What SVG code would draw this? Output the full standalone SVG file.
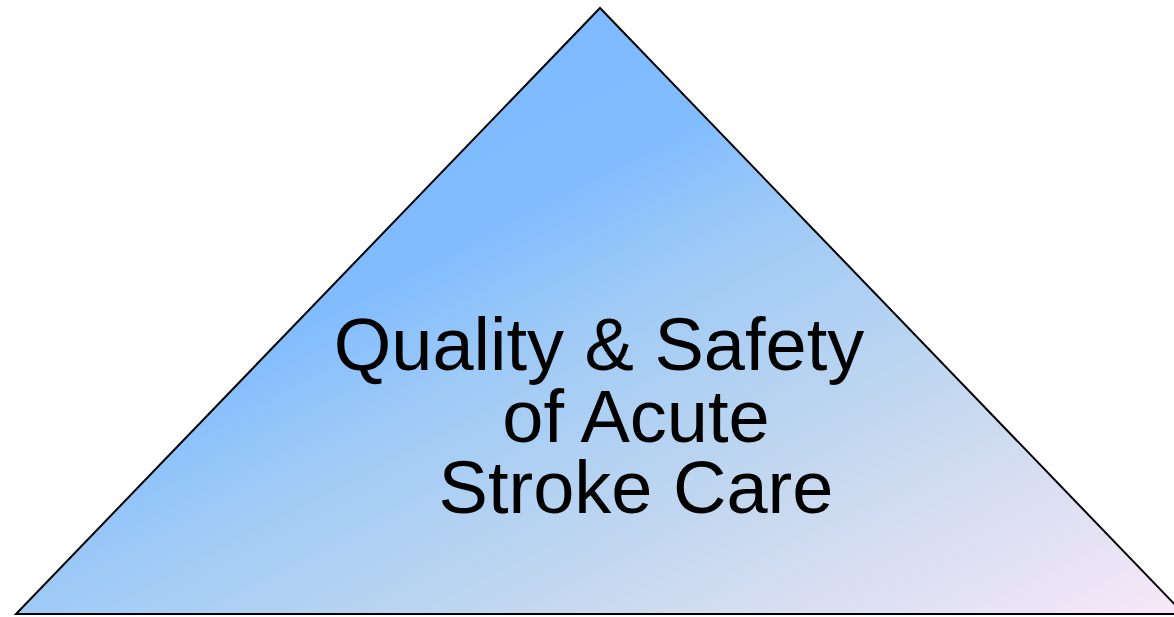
<svg xmlns="http://www.w3.org/2000/svg" width="1174" height="617" viewBox="0 0 1174 617">
<style>
.lbl{font-family:"Liberation Sans",Arial,sans-serif;font-size:74px;fill:#000;text-anchor:middle}
</style>
<defs>
<linearGradient id="g" x1="0" y1="0" x2="1" y2="1">
<stop offset="0" stop-color="#7db6ff"/>
<stop offset="0.38" stop-color="#80bcff"/>
<stop offset="0.5" stop-color="#9ecaf6"/>
<stop offset="0.72" stop-color="#c4d8ef"/>
<stop offset="1" stop-color="#f8e8f8"/>
</linearGradient>
</defs>
<rect width="1174" height="617" fill="#fff"/>
<g id="pyramid">
<polygon points="600,8 16,614 1184,614" fill="url(#g)" stroke="#000" stroke-width="2" stroke-linejoin="miter"/>
<text class="lbl" x="599" y="370">Quality &amp; Safety</text>
<text class="lbl" x="636" y="442">of Acute</text>
<text class="lbl" x="636" y="513">Stroke Care</text>
</g>
</svg>
